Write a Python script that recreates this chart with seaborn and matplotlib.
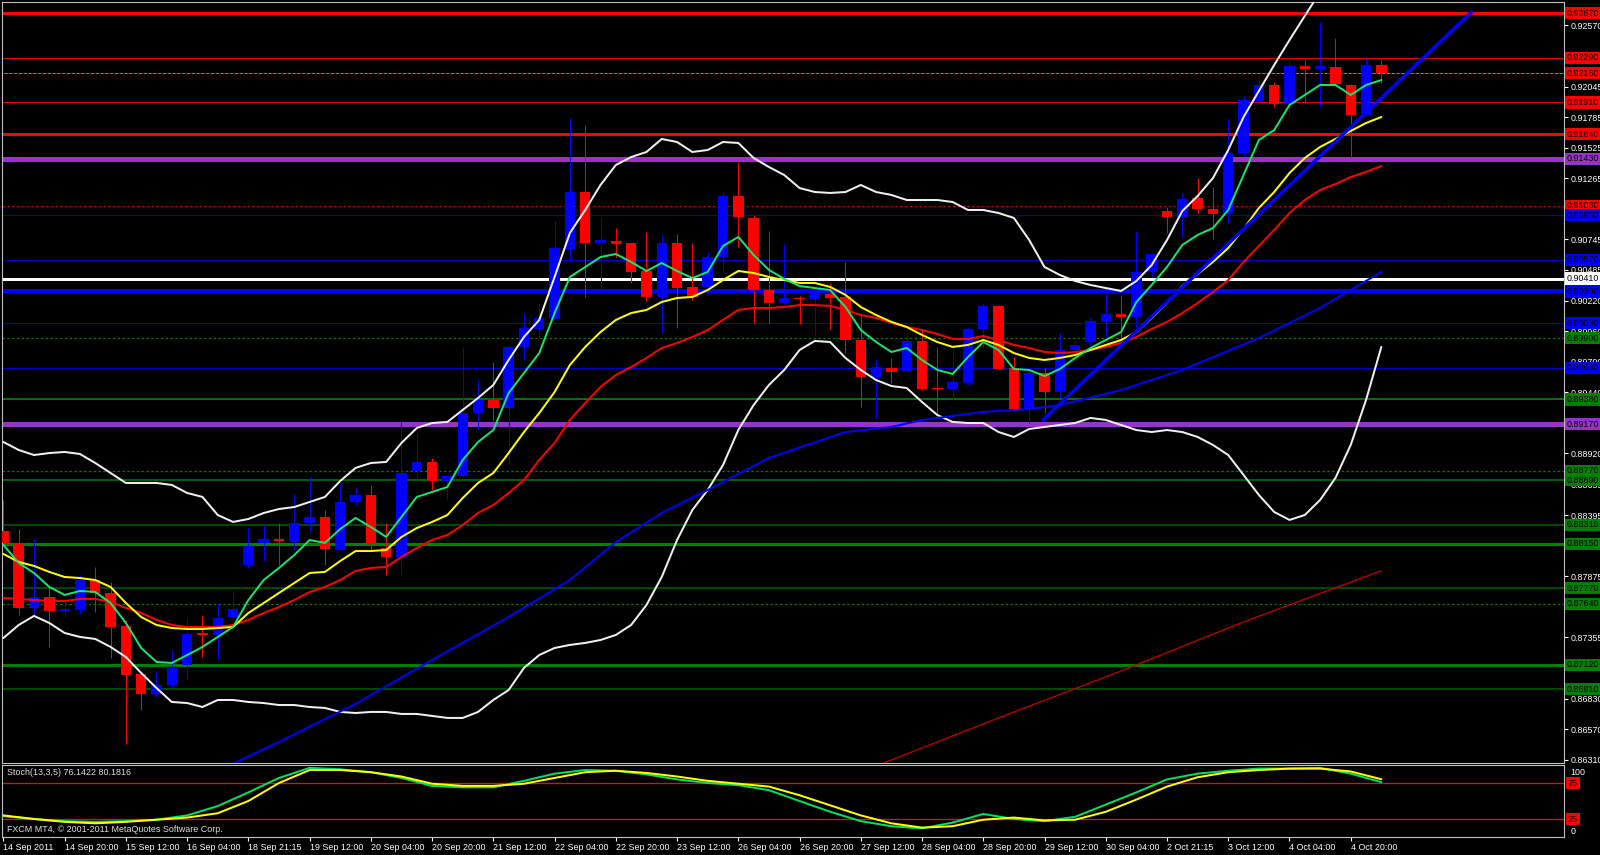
import matplotlib
matplotlib.use("Agg")
import matplotlib.pyplot as plt
import matplotlib.transforms as mtransforms
import numpy as np
import pandas as pd
import seaborn as sns

# ---------------- data ----------------
time_labels = ["14 Sep 2011", "14 Sep 20:00", "15 Sep 12:00", "16 Sep 04:00", "18 Sep 21:15",
               "19 Sep 12:00", "20 Sep 04:00", "20 Sep 20:00", "21 Sep 12:00", "22 Sep 04:00",
               "22 Sep 20:00", "23 Sep 12:00", "26 Sep 04:00", "26 Sep 20:00", "27 Sep 12:00",
               "28 Sep 04:00", "28 Sep 20:00", "29 Sep 12:00", "30 Sep 04:00", "2 Oct 21:15",
               "3 Oct 12:00", "4 Oct 04:00", "4 Oct 20:00"]

opens = [0.88259, 0.88157, 0.87603, 0.87697, 0.87577, 0.87586, 0.87841, 0.87731, 0.87449, 0.87041,
         0.86870, 0.86947, 0.87117, 0.87390, 0.87373, 0.87526, 0.87969, 0.88157, 0.88191, 0.88165,
         0.88327, 0.88378, 0.88097, 0.88506, 0.88566, 0.88114, 0.88037, 0.88770, 0.88847, 0.88685,
         0.88727, 0.89264, 0.89375, 0.89307, 0.89827, 0.89980, 0.90065, 0.90662, 0.91147, 0.90713,
         0.90730, 0.90713, 0.90474, 0.90253, 0.90713, 0.90338, 0.90338, 0.90593, 0.91113, 0.90926,
         0.90312, 0.90201, 0.90244, 0.90236, 0.90278, 0.90253, 0.89886, 0.89571, 0.89648, 0.89622,
         0.89878, 0.89477, 0.89469, 0.89520, 0.89980, 0.90176, 0.89648, 0.89298, 0.89605, 0.89443,
         0.89801, 0.89869, 0.90040, 0.90108, 0.90082, 0.90466, 0.90985, 0.90934, 0.91096, 0.91002,
         0.90960, 0.91479, 0.91922, 0.92059, 0.91897, 0.92221, 0.92195, 0.92212, 0.92059, 0.91803,
         0.92229]
highs = [0.88523, 0.88276, 0.88191, 0.87782, 0.87662, 0.87884, 0.87952, 0.87824, 0.87501, 0.87041,
         0.87066, 0.87245, 0.87509, 0.87543, 0.87645, 0.87748, 0.88284, 0.88310, 0.88327, 0.88574,
         0.88719, 0.88438, 0.88668, 0.88634, 0.88651, 0.88327, 0.89196, 0.89094, 0.88881, 0.88727,
         0.89827, 0.89545, 0.89699, 0.89844, 0.90116, 0.90201, 0.90900, 0.91778, 0.91718, 0.90934,
         0.90840, 0.90713, 0.90806, 0.90781, 0.90789, 0.90713, 0.90636, 0.91147, 0.91403, 0.90951,
         0.90815, 0.90704, 0.90261, 0.90312, 0.90372, 0.90551, 0.90099, 0.89724, 0.89733, 0.89954,
         0.89963, 0.89827, 0.89818, 0.89997, 0.90201, 0.90184, 0.89741, 0.89631, 0.89648, 0.89946,
         0.89886, 0.90074, 0.90287, 0.90270, 0.90815, 0.90627, 0.91019, 0.91139, 0.91266, 0.91190,
         0.91769, 0.91965, 0.92135, 0.92084, 0.92297, 0.92272, 0.92596, 0.92459, 0.92067, 0.92289,
         0.92272]
lows = [0.88140, 0.87543, 0.87543, 0.87271, 0.87526, 0.87552, 0.87569, 0.87177, 0.86444, 0.86734,
        0.86845, 0.86930, 0.86998, 0.87185, 0.87160, 0.87501, 0.87944, 0.88003, 0.87969, 0.88097,
        0.88250, 0.87969, 0.88097, 0.88480, 0.88097, 0.87884, 0.87884, 0.88702, 0.88608, 0.88532,
        0.88719, 0.89119, 0.89196, 0.88821, 0.89716, 0.89895, 0.90065, 0.90568, 0.90253, 0.90287,
        0.90593, 0.90372, 0.90218, 0.89946, 0.89988, 0.90227, 0.90295, 0.90466, 0.90679, 0.90031,
        0.90031, 0.90201, 0.90023, 0.89920, 0.89980, 0.89775, 0.89315, 0.89222, 0.89520, 0.89622,
        0.89460, 0.89264, 0.89375, 0.89503, 0.89818, 0.89631, 0.89290, 0.89179, 0.89264, 0.89392,
        0.89716, 0.89844, 0.89903, 0.89886, 0.89997, 0.90423, 0.90798, 0.90764, 0.90968, 0.90747,
        0.90883, 0.91445, 0.91905, 0.91871, 0.91803, 0.91905, 0.91871, 0.92059, 0.91437, 0.91803,
        0.92076]
closes = [0.88157, 0.87603, 0.87697, 0.87577, 0.87594, 0.87841, 0.87731, 0.87441, 0.87032, 0.86870,
          0.86947, 0.87092, 0.87381, 0.87373, 0.87518, 0.87594, 0.88131, 0.88191, 0.88174, 0.88327,
          0.88378, 0.88106, 0.88506, 0.88566, 0.88157, 0.88037, 0.88753, 0.88847, 0.88685, 0.88727,
          0.89264, 0.89375, 0.89307, 0.89827, 0.89988, 0.90074, 0.90670, 0.91147, 0.90713, 0.90738,
          0.90704, 0.90466, 0.90253, 0.90713, 0.90329, 0.90253, 0.90593, 0.91113, 0.90934, 0.90312,
          0.90201, 0.90244, 0.90236, 0.90287, 0.90244, 0.89886, 0.89571, 0.89656, 0.89614, 0.89878,
          0.89469, 0.89469, 0.89528, 0.89980, 0.90176, 0.89639, 0.89298, 0.89605, 0.89443, 0.89801,
          0.89844, 0.90048, 0.90108, 0.90082, 0.90466, 0.90619, 0.90934, 0.91088, 0.91002, 0.90960,
          0.91479, 0.91931, 0.92059, 0.91897, 0.92221, 0.92195, 0.92221, 0.92067, 0.91803, 0.92229,
          0.92161]

ma_fast = [0.88140, 0.87986, 0.87901, 0.87782, 0.87714, 0.87748, 0.87739, 0.87645, 0.87475, 0.87262,
           0.87143, 0.87134, 0.87202, 0.87271, 0.87356, 0.87441, 0.87671, 0.87841, 0.87944, 0.88054,
           0.88182, 0.88157, 0.88276, 0.88370, 0.88293, 0.88208, 0.88378, 0.88549, 0.88591, 0.88634,
           0.88864, 0.89017, 0.89119, 0.89435, 0.89605, 0.89775, 0.90116, 0.90423, 0.90508, 0.90593,
           0.90619, 0.90551, 0.90474, 0.90542, 0.90474, 0.90414, 0.90466, 0.90687, 0.90764, 0.90610,
           0.90483, 0.90406, 0.90346, 0.90329, 0.90312, 0.90167, 0.89971, 0.89869, 0.89784, 0.89818,
           0.89716, 0.89631, 0.89597, 0.89741, 0.89869, 0.89801, 0.89639, 0.89631, 0.89579, 0.89639,
           0.89733, 0.89818, 0.89886, 0.89954, 0.90210, 0.90355, 0.90508, 0.90696, 0.90781, 0.90840,
           0.90994, 0.91292, 0.91590, 0.91675, 0.91888, 0.91974, 0.92059, 0.92059, 0.91974, 0.92059,
           0.92101]
ma_mid = [0.88063, 0.87995, 0.87961, 0.87910, 0.87867, 0.87858, 0.87841, 0.87782, 0.87645, 0.87526,
          0.87458, 0.87432, 0.87424, 0.87424, 0.87432, 0.87441, 0.87560, 0.87645, 0.87731, 0.87816,
          0.87901, 0.87910, 0.88003, 0.88088, 0.88088, 0.88097, 0.88208, 0.88284, 0.88336, 0.88395,
          0.88540, 0.88668, 0.88753, 0.88923, 0.89102, 0.89264, 0.89443, 0.89673, 0.89827, 0.89954,
          0.90057, 0.90116, 0.90142, 0.90210, 0.90244, 0.90253, 0.90312, 0.90397, 0.90474, 0.90457,
          0.90423, 0.90397, 0.90372, 0.90372, 0.90338, 0.90270, 0.90167, 0.90099, 0.90040, 0.89997,
          0.89929, 0.89869, 0.89827, 0.89844, 0.89886, 0.89844, 0.89775, 0.89733, 0.89716, 0.89733,
          0.89758, 0.89801, 0.89844, 0.89886, 0.89954, 0.90074, 0.90201, 0.90346, 0.90449, 0.90551,
          0.90670, 0.90832, 0.91011, 0.91147, 0.91309, 0.91437, 0.91531, 0.91599, 0.91667, 0.91735,
          0.91786]
ma_slow = [0.87688, 0.87680, 0.87671, 0.87662, 0.87662, 0.87680, 0.87680, 0.87654, 0.87603, 0.87560,
           0.87501, 0.87458, 0.87441, 0.87441, 0.87441, 0.87458, 0.87501, 0.87560, 0.87611, 0.87671,
           0.87739, 0.87782, 0.87841, 0.87918, 0.87944, 0.87952, 0.88037, 0.88114, 0.88182, 0.88225,
           0.88310, 0.88412, 0.88480, 0.88583, 0.88693, 0.88864, 0.89009, 0.89205, 0.89349, 0.89486,
           0.89588, 0.89656, 0.89733, 0.89818, 0.89861, 0.89912, 0.89971, 0.90057, 0.90142, 0.90159,
           0.90159, 0.90167, 0.90184, 0.90184, 0.90176, 0.90142, 0.90099, 0.90074, 0.90031, 0.89997,
           0.89971, 0.89937, 0.89895, 0.89895, 0.89920, 0.89886, 0.89844, 0.89818, 0.89784, 0.89775,
           0.89784, 0.89801, 0.89827, 0.89861, 0.89912, 0.89980, 0.90040, 0.90116, 0.90201, 0.90295,
           0.90397, 0.90551, 0.90687, 0.90823, 0.90968, 0.91079, 0.91164, 0.91215, 0.91275, 0.91318,
           0.91369]
bb_upper = [0.89017, 0.88949, 0.88906, 0.88923, 0.88932, 0.88915, 0.88838, 0.88753, 0.88668, 0.88668,
            0.88668, 0.88651, 0.88583, 0.88549, 0.88395, 0.88336, 0.88361, 0.88412, 0.88446, 0.88463,
            0.88506, 0.88549, 0.88685, 0.88796, 0.88838, 0.88847, 0.89009, 0.89136, 0.89179, 0.89188,
            0.89290, 0.89392, 0.89503, 0.89716, 0.89912, 0.90057, 0.90423, 0.90798, 0.90994, 0.91207,
            0.91377, 0.91445, 0.91488, 0.91599, 0.91573, 0.91488, 0.91505, 0.91573, 0.91565, 0.91437,
            0.91360, 0.91292, 0.91181, 0.91147, 0.91139, 0.91147, 0.91207, 0.91147, 0.91122, 0.91079,
            0.91079, 0.91079, 0.91062, 0.90994, 0.90994, 0.90968, 0.90926, 0.90738, 0.90508, 0.90440,
            0.90389, 0.90355, 0.90329, 0.90304, 0.90389, 0.90525, 0.90738, 0.90985, 0.91113, 0.91266,
            0.91505, 0.91786, 0.92008, 0.92229, 0.92442, 0.92647, 0.92851, 0.93039]
bb_lower = [0.87347, 0.87458, 0.87535, 0.87475, 0.87390, 0.87356, 0.87339, 0.87271, 0.87185, 0.87049,
            0.86921, 0.86802, 0.86793, 0.86759, 0.86819, 0.86819, 0.86802, 0.86793, 0.86776, 0.86776,
            0.86759, 0.86751, 0.86717, 0.86708, 0.86717, 0.86717, 0.86700, 0.86700, 0.86683, 0.86666,
            0.86666, 0.86717, 0.86819, 0.86904, 0.87092, 0.87202, 0.87262, 0.87288, 0.87305, 0.87330,
            0.87373, 0.87458, 0.87628, 0.87867, 0.88182, 0.88438, 0.88608, 0.88821, 0.89119, 0.89332,
            0.89503, 0.89631, 0.89801, 0.89878, 0.89869, 0.89733, 0.89631, 0.89545, 0.89494, 0.89477,
            0.89358, 0.89247, 0.89188, 0.89179, 0.89179, 0.89102, 0.89060, 0.89128, 0.89145, 0.89162,
            0.89179, 0.89222, 0.89205, 0.89162, 0.89119, 0.89102, 0.89119, 0.89102, 0.89060, 0.88992,
            0.88906, 0.88736, 0.88566, 0.88421, 0.88353, 0.88395, 0.88523, 0.88710, 0.88992, 0.89375,
            0.89827]

ma_long_bars = [14, 18, 23, 28, 33, 37, 40, 43, 46, 50, 55, 58, 60, 64, 67, 69, 73, 77, 82, 86, 90]
ma_long_vals = [0.86214, 0.86461, 0.86785, 0.87160, 0.87526, 0.87841, 0.88165, 0.88412, 0.88608, 0.88881,
                0.89102, 0.89145, 0.89205, 0.89273, 0.89298, 0.89332, 0.89460, 0.89631, 0.89903, 0.90159,
                0.90466]
ma200_bars = [57, 65, 73, 81, 90]
ma200_vals = [0.86257, 0.86666, 0.87066, 0.87484, 0.87920]

trend_bars = [67.9, 95.9]
trend_vals = [0.89205, 0.92681]

price_ticks = [0.92570, 0.92305, 0.92045, 0.91785, 0.91525, 0.91265, 0.91005, 0.90745, 0.90485,
               0.90220, 0.89960, 0.89700, 0.89440, 0.89180, 0.88920, 0.88655, 0.88395, 0.88135,
               0.87875, 0.87615, 0.87355, 0.87095, 0.86830, 0.86570, 0.86310]

level_prices = [0.92670, 0.92290, 0.92160, 0.91910, 0.91640, 0.91430, 0.91030, 0.90950, 0.90570,
                0.90410, 0.90300, 0.90030, 0.89900, 0.89650, 0.89380, 0.89170, 0.88770, 0.88690,
                0.88310, 0.88150, 0.87770, 0.87640, 0.87120, 0.86910]

stoch_bars = list(range(0, 91, 2))
stoch_main = [29, 25, 22, 21, 22, 24, 30, 43, 62, 82, 96, 94, 90, 82, 71, 69, 69, 78, 88, 93,
              92, 87, 80, 75, 72, 65, 50, 35, 22, 15, 12, 20, 32, 25, 22, 28, 45, 62, 80, 88,
              92, 95, 95, 96, 88, 76.1422]
stoch_signal = [30, 25, 21, 19, 21, 24, 27, 33, 50, 75, 93, 93, 90, 84, 74, 71, 71, 74, 82, 90,
                92, 89, 84, 78, 74, 70, 58, 44, 30, 19, 13, 15, 24, 27, 23, 24, 35, 52, 70, 83,
                90, 93, 95, 95, 91, 80.1816]
stoch_levels = [75, 25]

# ---------------- styles ----------------
RED, BLUE, GREEN, PURPLE, WHITE = "#ff0000", "#0000ff", "#008000", "#9932cc", "#ffffff"
# (line colour, width px, linestyle, label box colour)
level_styles = [
    ("#ff0000", 3, "-", RED), ("#e00000", 1, "-", RED), ("#b00000", 1.2, (0, (2, 2)), RED),
    ("#e00000", 1, "-", RED), ("#ff0000", 3, "-", RED), (PURPLE, 5, "-", PURPLE),
    ("#c00000", 1.2, (0, (2, 2)), RED), ("#0000c8", 1, "-", BLUE), ("#0000c8", 1, "-", BLUE),
    ("#ffffff", 3, "-", WHITE), ("#0000ff", 4, "-", BLUE), ("#0000c8", 1, "-", BLUE),
    ("#008000", 1.2, (0, (2, 2)), GREEN), ("#0000c8", 1, "-", BLUE), ("#007000", 2, "-", GREEN),
    (PURPLE, 5, "-", PURPLE), ("#008000", 1.2, (0, (2, 2)), GREEN), ("#006000", 2, "-", GREEN),
    ("#006000", 1.5, "-", GREEN), ("#008000", 3, "-", GREEN), ("#006000", 1.5, "-", GREEN),
    ("#008000", 1.2, (0, (2, 2)), GREEN), ("#008000", 3, "-", GREEN), ("#006000", 1.5, "-", GREEN),
]

PX = 0.72  # points per pixel at 100 dpi
FS = 6.4

sns.set_style("dark", {"axes.facecolor": "black", "figure.facecolor": "black"})
plt.rcParams['font.family'] = ['Liberation Sans', 'DejaVu Sans']

W, H = 1600, 855
fig = plt.figure(figsize=(W / 100, H / 100), dpi=100, facecolor="black")


def box(x0, y0, x1, y1):
    return [x0 / W, 1 - y1 / H, (x1 - x0) / W, (y1 - y0) / H]


ax = fig.add_axes(box(2, 2, 1564, 763))
ax2 = fig.add_axes(box(2, 765, 1564, 837))
for a in (ax, ax2):
    a.set_facecolor("black")
    a.grid(False)
    for s in a.spines.values():
        s.set_color("#c0c0c0")
        s.set_linewidth(0.8)
    a.set_xlim(-0.091, 101.93)

ax.set_ylim(0.86282, 0.92766)

# horizontal levels
for p, (c, lw, ls, bc) in zip(level_prices, level_styles):
    ax.axhline(p, color=c, lw=lw * PX, ls=ls, zorder=1)
ax.axhline(closes[-1], color="#909090", lw=1 * PX, zorder=0.9)

# candles
df = pd.DataFrame({"o": opens, "h": highs, "l": lows, "c": closes})
df["i"] = np.arange(len(df))
df["col"] = np.where(df["c"] >= df["o"], BLUE, RED)
df["bot"] = df[["o", "c"]].min(axis=1)
df["hgt"] = (df["c"] - df["o"]).abs().clip(lower=0.00012)
ax.vlines(df["i"], df["l"], df["h"], colors=df["col"], lw=1 * PX, zorder=3)
ax.bar(df["i"], df["hgt"], bottom=df["bot"], width=0.68, color=df["col"], lw=0, zorder=3.1)

# indicators
xb = np.arange(len(closes))
sns.lineplot(x=np.arange(len(bb_upper)), y=bb_upper, ax=ax, color="#f0f0f0", lw=2 * PX, zorder=4, legend=False)
sns.lineplot(x=xb, y=bb_lower, ax=ax, color="#f0f0f0", lw=2 * PX, zorder=4, legend=False)
sns.lineplot(x=ma_long_bars, y=ma_long_vals, ax=ax, color="#0000ff", lw=2 * PX, zorder=4, legend=False)
sns.lineplot(x=ma200_bars, y=ma200_vals, ax=ax, color="#c00000", lw=1.3 * PX, zorder=4, legend=False)
sns.lineplot(x=xb, y=ma_slow, ax=ax, color="#ff0000", lw=2 * PX, zorder=4.1, legend=False)
sns.lineplot(x=xb, y=ma_mid, ax=ax, color="#ffff00", lw=2 * PX, zorder=4.2, legend=False)
sns.lineplot(x=xb, y=ma_fast, ax=ax, color="#19e36e", lw=2 * PX, zorder=4.3, legend=False)
sns.lineplot(x=trend_bars, y=trend_vals, ax=ax, color="#0000ff", lw=3.5 * PX, zorder=4.5, legend=False)
ax.set_xlabel("")
ax.set_ylabel("")

# right price scale
ax.yaxis.tick_right()
ax.set_yticks(price_ticks)
ax.set_yticklabels([f"{t:.5f}" for t in price_ticks])
ax.tick_params(axis="y", which="both", direction="out", length=3, width=0.8, pad=2,
               colors="#ffffff", labelsize=FS, right=True, left=False, labelright=True, labelleft=False)
ax.tick_params(axis="x", bottom=False, labelbottom=False)

trans = mtransforms.blended_transform_factory(ax.transAxes, ax.transData)
for p, (c, lw, ls, bc) in zip(level_prices, level_styles):
    ax.text(1.0019, p, f"{p:.5f}", transform=trans, ha="left", va="center", fontsize=FS,
            color="black", clip_on=False, zorder=6,
            bbox=dict(boxstyle="square,pad=0.18", fc=bc, ec="none"))

# stochastic panel
ax2.set_ylim(0, 100)
for lv in stoch_levels:
    ax2.axhline(lv, color="#ff0000", lw=1.3 * PX, zorder=1)
sns.lineplot(x=stoch_bars, y=stoch_main, ax=ax2, color="#00e060", lw=2 * PX, zorder=3, legend=False)
sns.lineplot(x=stoch_bars, y=stoch_signal, ax=ax2, color="#ffff00", lw=2 * PX, zorder=3.1, legend=False)
ax2.set_xlabel("")
ax2.set_ylabel("")
ax2.set_yticks([])
ax2.set_xticks(list(range(0, 4 * len(time_labels), 4)))
ax2.set_xticklabels(time_labels)
ax2.tick_params(axis="x", direction="out", length=3, width=0.8, pad=1.5, colors="#ffffff",
                labelsize=FS, bottom=True)
for lbl in ax2.get_xticklabels():
    lbl.set_ha("left")

trans2 = mtransforms.blended_transform_factory(ax2.transAxes, ax2.transData)
ax2.text(1.004, 90, "100", transform=trans2, ha="left", va="center", fontsize=FS, color="white", clip_on=False)
ax2.text(1.004, 7, "0", transform=trans2, ha="left", va="center", fontsize=FS, color="white", clip_on=False)
for lv in stoch_levels:
    ax2.text(1.0025, lv, f"{lv}", transform=trans2, ha="left", va="center", fontsize=FS, color="black",
             clip_on=False, bbox=dict(boxstyle="square,pad=0.18", fc="#ff0000", ec="none"))
ax2.text(0.0032, 0.89, f"Stoch(13,3,5) {stoch_main[-1]:.4f} {stoch_signal[-1]:.4f}",
         transform=ax2.transAxes, ha="left", va="center", fontsize=FS, color="#e0e0e0")
ax2.text(0.0032, 0.10, "FXCM MT4, \u00a9 2001-2011 MetaQuotes Software Corp.",
         transform=ax2.transAxes, ha="left", va="center", fontsize=FS, color="#e0e0e0")

fig.savefig("out.png", dpi=100, facecolor="black")
